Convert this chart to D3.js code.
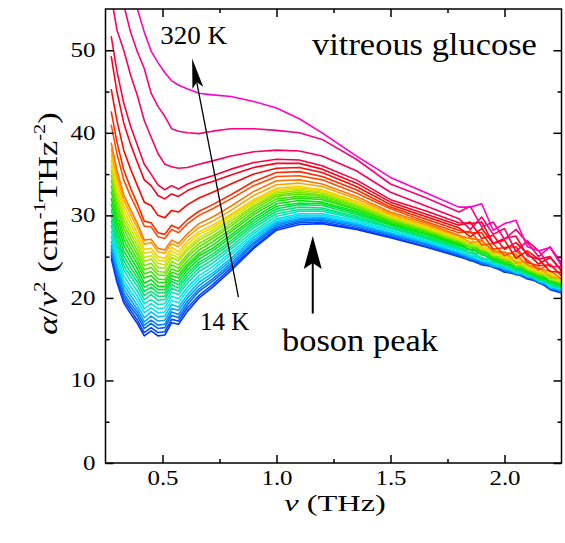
<!DOCTYPE html>
<html><head><meta charset="utf-8">
<script src="https://cdn.jsdelivr.net/npm/d3@7"></script>
<style>
body{margin:0;background:#fff;}
svg{display:block;}
</style>
</head><body>
<svg id="chart" width="565" height="543"></svg>
<script>
// ---------------- data ----------------
const freqTHz = [0.275,0.30,0.33,0.36,0.39,0.42,0.45,0.48,0.51,0.54,0.57,0.61,0.66,0.72,0.80,0.90,1.00,1.10,1.20,1.35,1.50,1.65,1.80,1.85,1.90,1.95,2.00,2.05,2.10,2.15,2.20,2.25];
const temperaturesK = [14,20,30,40,50,60,70,80,90,100,110,120,130,140,150,160,170,180,190,200,210,220,230,240,250,260,270,280,290,300,310,320];

const c14  = [24.8,21.9,19.4,18.1,16.9,15.4,16.0,15.4,15.5,17.0,16.8,18.4,20.0,21.3,23.3,26.0,28.2,28.9,29.0,28.3,27.3,26.2,25.0,24.6,24.0,23.8,23.1,23.0,22.3,22.0,21.0,20.6];
const c20  = [25.2,22.3,19.8,18.5,17.3,15.8,16.4,15.8,15.9,17.4,17.2,18.8,20.3,21.6,23.6,26.2,28.4,29.1,29.2,28.4,27.4,26.3,25.1,24.5,24.3,23.7,23.3,22.8,22.6,21.8,21.3,20.6];
const c30  = [25.6,22.7,20.2,18.9,17.8,16.3,16.9,16.3,16.4,17.9,17.6,19.2,20.8,22.0,23.9,26.5,28.6,29.3,29.4,28.6,27.6,26.5,25.2,24.9,24.1,24.0,23.2,23.1,22.4,22.3,21.1,20.9];
const c40  = [26.0,23.1,20.6,19.3,18.2,16.7,17.3,16.7,16.8,18.3,18.0,19.6,21.1,22.3,24.2,26.7,28.8,29.5,29.5,28.8,27.7,26.6,25.3,24.7,24.4,23.8,23.5,22.9,22.7,21.9,21.4,20.7];
const c50  = [26.4,23.5,21.1,19.8,18.6,17.1,17.8,17.2,17.3,18.7,18.5,20.0,21.5,22.7,24.5,27.0,29.0,29.6,29.7,28.9,27.8,26.7,25.4,25.1,24.3,24.2,23.4,23.3,22.5,22.4,21.2,21.0];
const c60  = [26.9,24.0,21.6,20.3,19.1,17.6,18.3,17.7,17.8,19.2,18.9,20.4,21.9,23.0,24.8,27.3,29.2,29.8,29.8,29.0,27.9,26.8,25.5,24.9,24.6,23.9,23.7,23.0,22.9,22.0,21.6,20.8];
const c70  = [27.5,24.6,22.1,20.8,19.7,18.2,18.8,18.2,18.3,19.7,19.4,20.9,22.3,23.4,25.2,27.5,29.4,30.0,30.0,29.2,28.1,26.9,25.7,25.2,24.5,24.4,23.6,23.5,22.6,22.6,21.3,21.1];
const c80  = [28.1,25.2,22.7,21.4,20.2,18.7,19.3,18.7,18.8,20.2,19.9,21.3,22.7,23.8,25.5,27.8,29.6,30.2,30.2,29.4,28.2,27.0,25.8,25.1,24.9,24.1,23.9,23.1,23.1,22.1,21.8,20.9];
const c90  = [28.8,25.9,23.4,22.0,20.8,19.3,19.8,19.2,19.3,20.7,20.4,21.8,23.2,24.2,25.9,28.1,29.9,30.5,30.5,29.6,28.4,27.2,25.9,25.5,24.7,24.7,23.7,23.8,22.7,22.8,21.4,21.3];
const c100 = [29.4,26.5,23.9,22.6,21.4,19.8,20.4,19.7,19.8,21.2,20.8,22.2,23.6,24.6,26.2,28.5,30.2,30.7,30.7,29.7,28.5,27.3,26.0,25.8,24.8,24.6,23.7,23.6,22.9,22.1,22.1,21.2];
const c110 = [30.0,27.1,24.5,23.1,21.9,20.3,20.8,20.2,20.2,21.6,21.2,22.6,24.0,25.0,26.6,28.8,30.5,31.0,30.9,29.9,28.6,27.4,26.1,25.4,25.4,24.5,24.3,23.2,23.2,22.5,21.7,21.3];
const c120 = [30.7,27.7,25.1,23.7,22.4,20.8,21.3,20.6,20.6,22.0,21.6,23.0,24.3,25.3,26.9,29.1,30.8,31.3,31.2,30.1,28.8,27.5,26.3,25.9,25.6,24.4,24.2,23.9,22.9,22.4,22.2,21.3];
const c130 = [31.4,28.4,25.7,24.3,22.9,21.3,21.7,21.0,21.0,22.3,22.0,23.4,24.7,25.7,27.3,29.4,31.1,31.5,31.4,30.3,28.9,27.7,26.4,26.2,25.2,24.9,24.0,23.9,23.2,22.4,22.4,21.5];
const c140 = [32.1,29.1,26.4,24.9,23.5,21.8,22.2,21.4,21.4,22.7,22.4,23.8,25.1,26.0,27.6,29.7,31.4,31.8,31.6,30.5,29.0,27.8,26.5,25.8,25.8,24.8,24.6,23.5,23.4,22.8,21.9,21.5];
const c150 = [32.9,29.8,27.1,25.5,24.1,22.4,22.7,21.9,21.8,23.1,22.8,24.1,25.4,26.4,28.0,30.1,31.7,32.1,31.9,30.7,29.2,28.0,26.6,26.2,25.9,24.7,24.5,24.2,23.1,22.7,22.4,21.5];
const c160 = [33.6,30.5,27.7,26.1,24.6,22.9,23.2,22.3,22.2,23.5,23.2,24.5,25.8,26.8,28.3,30.4,32.0,32.3,32.1,30.8,29.3,28.1,26.7,26.5,25.5,25.2,24.3,24.2,23.4,22.7,22.6,21.7];
const c170 = [34.3,31.2,28.4,26.7,25.2,23.4,23.7,22.8,22.7,24.0,23.6,25.0,26.2,27.2,28.7,30.7,32.3,32.6,32.3,31.0,29.4,28.2,26.8,26.1,26.1,25.1,24.9,23.8,23.7,23.1,22.2,21.8];
const c180 = [34.9,31.7,28.9,27.3,25.7,23.9,24.2,23.2,23.1,24.4,24.0,25.3,26.6,27.5,29.0,31.0,32.5,32.8,32.5,31.2,29.6,28.3,26.9,26.5,26.2,25.0,24.8,24.5,23.4,23.0,22.7,21.8];
const c190 = [35.5,32.3,29.5,27.8,26.3,24.4,24.7,23.7,23.6,24.9,24.5,25.8,27.0,27.9,29.3,31.2,32.7,33.0,32.7,31.3,29.7,28.4,27.0,26.8,25.8,25.5,24.6,24.5,23.7,22.9,22.8,21.9];
const c200 = [36.1,32.9,30.0,28.3,26.8,24.9,25.1,24.2,24.0,25.3,24.8,26.1,27.3,28.2,29.6,31.5,32.9,33.2,32.8,31.5,29.8,28.5,27.1,26.3,26.5,25.4,25.3,24.0,24.1,23.4,22.3,22.0];
const c210 = [36.7,33.5,30.6,28.9,27.3,25.4,25.6,24.6,24.4,25.7,25.2,26.5,27.7,28.5,29.9,31.7,33.1,33.3,33.0,31.6,29.9,28.6,27.2,26.8,26.6,25.2,25.1,25.0,23.6,23.2,23.0,22.0];
const c220 = [37.4,34.1,31.2,29.5,27.8,25.9,26.0,25.0,24.8,26.1,25.6,26.9,28.0,28.8,30.1,31.9,33.3,33.5,33.1,31.7,30.0,28.7,27.3,27.2,26.0,25.9,24.8,24.9,24.0,23.1,23.3,22.2];
const c230 = [38.1,34.8,31.9,30.1,28.5,26.5,26.7,25.6,25.4,26.6,26.2,27.4,28.5,29.3,30.6,32.4,33.7,33.9,33.5,32.0,30.2,28.9,27.5,26.7,26.9,25.7,25.6,24.3,24.4,23.7,22.6,22.3];
const c240 = [38.8,35.5,32.5,30.7,29.0,27.0,27.1,26.0,25.8,27.0,26.6,27.8,29.0,29.8,31.1,32.9,34.2,34.3,33.8,32.3,30.4,29.1,27.6,27.2,27.0,25.6,25.5,25.3,24.0,23.5,23.3,22.3];
const c250 = [41.0,37.5,34.3,32.3,30.6,28.7,28.6,27.4,27.2,28.3,27.9,29.0,30.0,30.8,32.0,33.6,34.7,34.8,34.3,32.7,30.8,29.3,27.9,28.1,26.4,26.6,25.1,25.7,24.6,23.4,24.1,22.7];
const c260 = [42.6,38.9,35.5,33.3,31.4,29.3,29.1,27.9,27.7,28.8,28.4,29.5,30.5,31.3,32.5,34.1,35.2,35.3,34.7,33.1,31.0,29.6,28.2,27.9,27.9,25.9,26.1,26.2,24.3,23.9,24.0,22.7];
const c270 = [45.3,41.5,37.9,35.6,33.6,31.6,31.2,30.0,29.7,30.6,30.4,31.3,32.1,32.8,33.8,35.0,35.7,35.8,35.2,33.5,31.3,29.9,28.5,27.4,28.4,26.6,27.0,24.8,25.7,24.7,23.2,23.1];
const c280 = [49.3,45.0,41.2,38.6,36.4,34.3,33.6,32.4,32.0,32.6,32.3,33.0,33.6,34.1,34.9,35.8,36.3,36.3,35.6,33.9,31.6,30.2,28.8,29.2,27.2,27.6,25.9,26.7,25.4,24.1,24.9,23.3];
const c290 = [51.7,47.5,43.6,40.8,38.5,36.2,35.0,33.7,33.1,33.6,33.2,33.8,34.3,34.8,35.6,36.4,36.8,36.7,36.0,34.3,31.9,30.6,29.1,29.0,29.2,26.6,27.2,27.5,25.1,24.7,25.0,23.3];
const c300 = [56.5,52.5,50.0,47.0,44.5,41.5,39.5,37.5,36.2,35.9,35.7,35.8,36.2,36.6,37.2,37.7,37.9,37.8,37.2,35.4,32.8,31.2,29.6,28.3,29.8,27.7,28.4,25.6,26.9,25.7,23.8,23.8];
const c310 = [63.0,60.0,55.5,52.2,49.8,47.8,44.8,43.2,42.0,40.5,40.2,40.0,39.9,40.2,40.5,40.5,40.3,40.0,39.2,36.8,33.8,32.2,30.4,31.1,28.6,29.2,27.1,28.3,26.7,25.0,26.2,24.2];
const c320 = [72.0,68.0,63.0,58.5,55.0,52.2,49.9,48.5,47.3,46.3,45.8,45.3,44.8,44.6,44.4,43.8,43.0,41.7,40.0,37.2,34.6,32.8,31.0,31.0,31.4,28.2,29.0,29.4,26.2,25.7,26.1,23.9];

const curves = [c14,c20,c30,c40,c50,c60,c70,c80,c90,c100,c110,c120,c130,c140,c150,c160,c170,c180,c190,c200,c210,c220,c230,c240,c250,c260,c270,c280,c290,c300,c310,c320];

const xTicks = [0.5,1.0,1.5,2.0];
const xMinorTicks = [0.75,1.25,1.75];
const yTicks = [0,10,20,30,40,50];
const yMinorTicks = [5,15,25,35,45];
const xTickLabels = ["0.5","1.0","1.5","2.0"];
const yTickLabels = ["0","10","20","30","40","50"];

// ---------------- chart ----------------
const FONT = "Liberation Serif";
const svg = d3.select("#chart");
const L = 105.5, R = 561.5, T = 9, B = 463;
const x = d3.scaleLinear().domain([0.25,2.25]).range([L,R]);
const y = d3.scaleLinear().domain([0,55]).range([B,T]);

const hue = d3.scaleLinear()
  .domain([14,60,100,140,180,210,230,250,270,290,310,320])
  .range([228,195,160,122,88,58,38,18,2,-14,-30,-48]);
function colorFor(t){
  const h = (hue(t)+360)%360;
  const l = (h>50 && h<180) ? 0.45 : 0.5;
  return d3.hsl(h,1,l).formatHex();
}

svg.append("defs").append("clipPath").attr("id","plotclip")
  .append("rect").attr("x",L).attr("y",T).attr("width",R-L).attr("height",B-T);

const line = d3.line().x((d,i)=>x(freqTHz[i])).y(d=>y(d));
svg.append("g").attr("clip-path","url(#plotclip)")
  .selectAll("path").data(curves).join("path")
  .attr("d",line)
  .attr("fill","none")
  .attr("stroke",(d,i)=>colorFor(temperaturesK[i]))
  .attr("stroke-width",1.6)
  .attr("stroke-linejoin","round");

const tickStyle = g => { g.select(".domain").remove(); g.selectAll(".tick line").attr("stroke","#000").attr("stroke-width",1.5); };
svg.append("g").attr("transform",`translate(0,${B})`)
  .attr("font-family",FONT)
  .call(d3.axisBottom(x).tickValues(xTicks).tickSize(-8).tickFormat((d,i)=>xTickLabels[i]))
  .call(tickStyle)
  .call(g=>g.selectAll("text").attr("y",0).attr("dy",0).attr("fill","#000")
      .attr("font-family",FONT).attr("font-size",21.5)
      .attr("transform","translate(0,22) scale(1.16,1)"));
svg.append("g").attr("transform",`translate(0,${B})`)
  .call(d3.axisBottom(x).tickValues(xMinorTicks).tickSize(-4).tickFormat(""))
  .call(tickStyle);
svg.append("g").attr("transform",`translate(0,${T})`)
  .call(d3.axisTop(x).tickValues(xTicks).tickSize(-8).tickFormat(""))
  .call(tickStyle);
svg.append("g").attr("transform",`translate(0,${T})`)
  .call(d3.axisTop(x).tickValues(xMinorTicks).tickSize(-4).tickFormat(""))
  .call(tickStyle);
svg.append("g").attr("transform",`translate(${L},0)`)
  .attr("font-family",FONT)
  .call(d3.axisLeft(y).tickValues(yTicks).tickSize(-8).tickFormat((d,i)=>yTickLabels[i]))
  .call(tickStyle)
  .call(g=>g.selectAll("text").attr("x",0).attr("dy","0.34em").attr("fill","#000")
      .attr("font-family",FONT).attr("font-size",21.5)
      .attr("transform","translate(-10,-1) scale(1.16,1)"));
svg.append("g").attr("transform",`translate(${L},0)`)
  .call(d3.axisLeft(y).tickValues(yMinorTicks).tickSize(-4).tickFormat(""))
  .call(tickStyle);
svg.append("g").attr("transform",`translate(${R},0)`)
  .call(d3.axisRight(y).tickValues(yTicks).tickSize(-8).tickFormat(""))
  .call(tickStyle);
svg.append("g").attr("transform",`translate(${R},0)`)
  .call(d3.axisRight(y).tickValues(yMinorTicks).tickSize(-4).tickFormat(""))
  .call(tickStyle);

svg.append("rect").attr("x",L).attr("y",T).attr("width",R-L).attr("height",B-T)
  .attr("fill","none").attr("stroke","#000").attr("stroke-width",1.5);

function txt(sel){ return sel.attr("font-family",FONT).attr("fill","#000"); }

// axis titles
const xt = svg.append("text").attr("transform","translate(335,511) scale(1.35,1)")
  .attr("text-anchor","middle").attr("font-size",24).call(txt);
xt.append("tspan").attr("font-style","italic").text("ν");
xt.append("tspan").text(" (THz)");

const yt = svg.append("text").attr("transform","translate(57,223.5) rotate(-90) scale(1.28,1)")
  .attr("text-anchor","middle").attr("font-size",27).call(txt);
yt.append("tspan").attr("font-style","italic").text("α");
yt.append("tspan").text("/");
yt.append("tspan").attr("font-style","italic").text("ν");
yt.append("tspan").attr("font-size",16).attr("dy",-12).text("2");
yt.append("tspan").attr("dy",12).text(" (cm");
yt.append("tspan").attr("font-size",16).attr("dy",-12).text("-1");
yt.append("tspan").attr("dy",12).text("THz");
yt.append("tspan").attr("font-size",16).attr("dy",-12).text("-2");
yt.append("tspan").attr("dy",12).text(")");

// annotations
svg.append("text").attr("transform","translate(312,55) scale(1.077,1)").attr("font-size",32).call(txt).text("vitreous glucose");
svg.append("text").attr("transform",`translate(${x(0.49)},43.5) scale(1.08,1)`).attr("font-size",25).call(txt).text("320 K");
svg.append("text").attr("transform",`translate(${x(0.665)},330)`).attr("font-size",25).call(txt).text("14 K");
svg.append("text").attr("transform","translate(282,351) scale(1.077,1)").attr("font-size",32).call(txt).text("boson peak");

function arrow(x1,y1,x2,y2,len,half,notch,w){
  const g = svg.append("g");
  const ang = Math.atan2(y2-y1,x2-x1);
  const bx = x2 - Math.cos(ang)*notch, by = y2 - Math.sin(ang)*notch;
  g.append("line").attr("x1",x1).attr("y1",y1).attr("x2",bx).attr("y2",by)
    .attr("stroke","#000").attr("stroke-width",w);
  g.append("path").attr("d",`M0,0 L${-len},${half} L${-notch},0 L${-len},${-half} Z`)
    .attr("transform",`translate(${x2},${y2}) rotate(${ang*180/Math.PI})`).attr("fill","#000");
}
arrow(x(0.833),y(20.1),x(0.63),y(49.0),30,5.5,24,1.3);
arrow(x(1.159),y(18.1),x(1.159),y(27.5),33,9,27,2);
</script>
</body></html>
